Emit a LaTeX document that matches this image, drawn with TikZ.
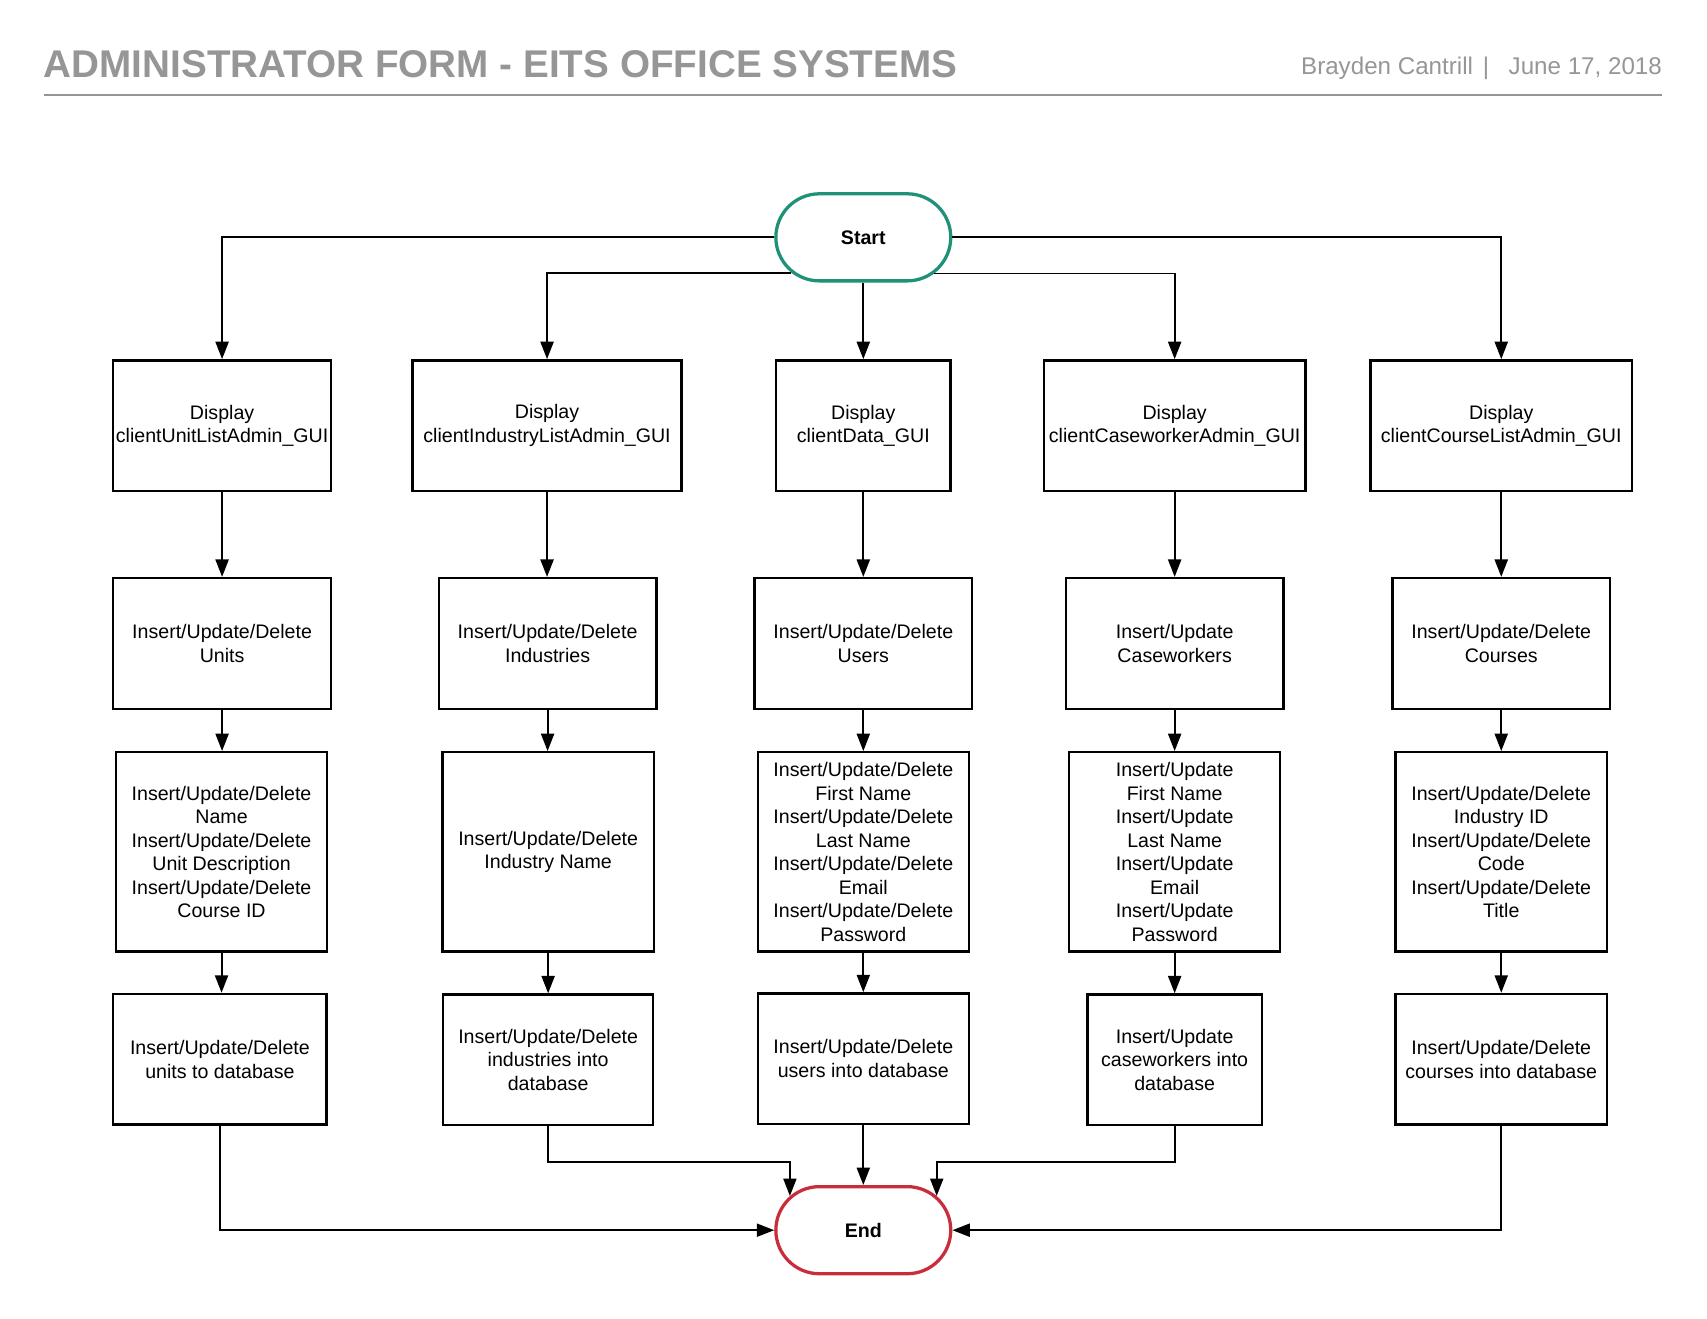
\documentclass[tikz,border=0pt]{standalone}
\usepackage{fontspec}
\setmainfont{Liberation Sans}
\usetikzlibrary{shapes.misc,arrows.meta}
\definecolor{hdrgray}{RGB}{150,150,150}
\definecolor{startcol}{RGB}{30,145,120}
\definecolor{endcol}{RGB}{200,45,60}
\begin{document}
\begin{tikzpicture}[x=0.5pt,y=-0.5pt,
  box/.style={draw,line width=1.1pt,inner sep=0pt,align=center,font=\fontsize{9}{10.8}\selectfont,minimum height=60pt},
  term/.style={rounded rectangle,draw,line width=1.5pt,fill=white,minimum width=87pt,minimum height=40pt,font=\fontsize{9}{10.8}\selectfont\bfseries},
  arr/.style={line width=0.9pt,-{Triangle[length=8pt,width=6pt]}},
  hdr/.style={inner sep=0pt,text=hdrgray}
]
\useasboundingbox (0,0) rectangle (1568,1211);
% header
\node[hdr,anchor=base west,font=\fontsize{17.75}{20}\selectfont\bfseries] (title) at (40,71) {ADMINISTRATOR FORM - EITS OFFICE SYSTEMS};
\node[hdr,anchor=base east,font=\fontsize{11.1}{13}\selectfont] (author) at (1527,68) {Brayden Cantrill\hspace{4.5pt}|\hspace{9pt}June 17, 2018};
\coordinate (hl) at (40,87);
\coordinate (hr) at (1527,87);
\draw[hdrgray,line width=1pt] (hl) -- (hr);
% terminals
\node[term,draw=startcol] (start) at (793,218) {Start};
\node[term,draw=endcol] (end) at (793,1130) {End};
% row 1
\node[box,minimum width=100pt] (a1) at (204,391) {Display\\clientUnitListAdmin\_GUI};
\node[box,minimum width=123.5pt] (a2) at (502.5,391) {Display\\clientIndustryListAdmin\_GUI};
\node[box,minimum width=80pt] (a3) at (793,391) {Display\\clientData\_GUI};
\node[box,minimum width=120pt] (a4) at (1079,391) {Display\\clientCaseworkerAdmin\_GUI};
\node[box,minimum width=120pt] (a5) at (1379,391) {Display\\clientCourseListAdmin\_GUI};
% row 2
\node[box,minimum width=100pt] (b1) at (204,591) {Insert/Update/Delete\\Units};
\node[box,minimum width=100pt] (b2) at (503,591) {Insert/Update/Delete\\Industries};
\node[box,minimum width=100pt] (b3) at (793,591) {Insert/Update/Delete\\Users};
\node[box,minimum width=100pt] (b4) at (1079,591) {Insert/Update\\Caseworkers};
\node[box,minimum width=100pt] (b5) at (1379,591) {Insert/Update/Delete\\Courses};
% row 3
\node[box,minimum width=97pt,minimum height=91.5pt] (c1) at (203.5,782.5) {Insert/Update/Delete\\Name\\Insert/Update/Delete\\Unit Description\\Insert/Update/Delete\\Course ID};
\node[box,minimum width=97pt,minimum height=91.5pt] (c2) at (503.5,782.5) {Insert/Update/Delete\\Industry Name};
\node[box,minimum width=97pt,minimum height=91.5pt] (c3) at (793,782.5) {Insert/Update/Delete\\First Name\\Insert/Update/Delete\\Last Name\\Insert/Update/Delete\\Email\\Insert/Update/Delete\\Password};
\node[box,minimum width=97pt,minimum height=91.5pt] (c4) at (1079,782.5) {Insert/Update\\First Name\\Insert/Update\\Last Name\\Insert/Update\\Email\\Insert/Update\\Password};
\node[box,minimum width=97pt,minimum height=91.5pt] (c5) at (1379,782.5) {Insert/Update/Delete\\Industry ID\\Insert/Update/Delete\\Code\\Insert/Update/Delete\\Title};
% row 4
\node[box,minimum width=98pt] (d1) at (202,973) {Insert/Update/Delete\\units to database};
\node[box,minimum width=96.5pt] (d2) at (503.5,973.5) {Insert/Update/Delete\\industries into\\database};
\node[box,minimum width=97pt] (d3) at (793,972.5) {Insert/Update/Delete\\users into database};
\node[box,minimum width=80pt] (d4) at (1079,973.5) {Insert/Update\\caseworkers into\\database};
\node[box,minimum width=97pt] (d5) at (1379,973) {Insert/Update/Delete\\courses into database};
% start connectors
\draw[arr] (start.west) -| (a1.north);
\draw[arr] (start.206.6) -| (a2.north);
\draw[arr] (start.south) -- (a3.north);
\draw[arr] (start.333.4) -| (a4.north);
\draw[arr] (start.east) -| (a5.north);
% column connectors
\foreach \i in {1,...,5}{
  \draw[arr] (a\i.south) -- (a\i.south |- b\i.north);
  \draw[arr] (b\i.south) -- (b\i.south |- c\i.north);
  \draw[arr] (c\i.south) -- (c\i.south |- d\i.north);
}
% end connectors
\draw[arr] (d1.south) |- (end.west);
\draw[arr] (d2.south) -- ++(0,33) -| (end.155);
\draw[arr] (d3.south) -- (end.north);
\draw[arr] (d4.south) -- ++(0,33) -| (end.25);
\draw[arr] (d5.south) |- (end.east);
\end{tikzpicture}
\end{document}
